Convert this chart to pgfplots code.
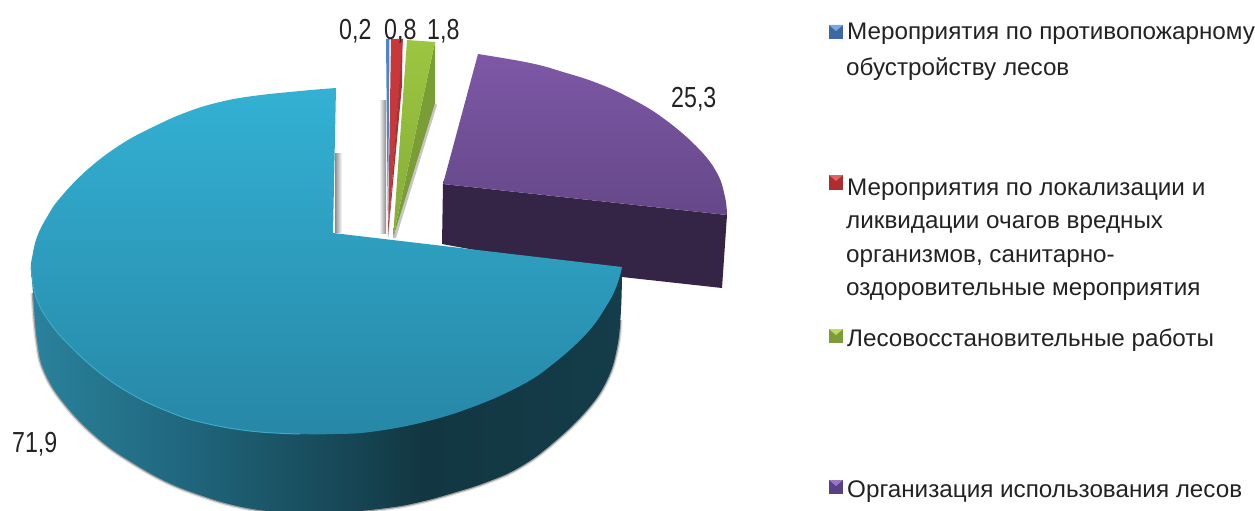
\documentclass[border=0pt]{standalone}
\usepackage{fontspec}
\setmainfont{Liberation Sans}
\newfontfamily\lgd[FakeStretch=1.01]{Liberation Sans}
\newfontfamily\nums[FakeStretch=0.8]{Liberation Sans}
\usepackage{pgfplots}
\pgfplotsset{compat=1.18}
\definecolor{bltopA}{HTML}{33B1D3}
\definecolor{bltopB}{HTML}{2787A7}
\definecolor{bledge}{HTML}{3CAAC8}
\definecolor{pptopA}{HTML}{7E58A6}
\definecolor{pptopB}{HTML}{654889}
\definecolor{ppside}{HTML}{342446}
\definecolor{lab}{HTML}{222222}
\definecolor{shd}{HTML}{8C8C8C}
\definecolor{sa}{RGB}{42,130,156}
\definecolor{sb}{RGB}{32,105,128}
\definecolor{sc}{RGB}{24,75,90}
\definecolor{sd}{RGB}{18,55,66}
\definecolor{se}{RGB}{20,60,73}
\definecolor{grA}{RGB}{155,198,64}
\definecolor{grB}{RGB}{135,172,56}
\definecolor{grD}{RGB}{122,158,53}
\definecolor{rdA}{RGB}{200,56,58}
\definecolor{rdD}{RGB}{165,50,52}
\definecolor{blu}{RGB}{74,134,200}
\definecolor{k1}{RGB}{60,105,165}
\definecolor{k1h}{RGB}{120,170,225}
\definecolor{k2}{RGB}{175,45,45}
\definecolor{k2h}{RGB}{225,100,100}
\definecolor{k3}{RGB}{125,155,55}
\definecolor{k3h}{RGB}{190,220,100}
\definecolor{k4}{RGB}{90,65,135}
\definecolor{k4h}{RGB}{150,120,195}
\pgfdeclarehorizontalshading{blside}{100bp}{
 color(0bp)=(sa);
 color(25bp)=(sa);
 color(37bp)=(sb);
 color(50bp)=(sc);
 color(58bp)=(sd);
 color(75bp)=(se);
 color(100bp)=(se)}
\newcommand{\lbl}[3]{\node[anchor=base west,inner sep=0pt,text=lab,font=\nums\fontsize{29}{32}\selectfont] at (axis cs:#1,#2) {#3};}
\newcommand{\lgt}[3]{\node[anchor=base west,inner sep=0pt,text=lab,font=\lgd\fontsize{24}{28}\selectfont] at (axis cs:#1,#2) {#3};}
\begin{document}
\begin{tikzpicture}
\begin{axis}[
  scale only axis,width=1255pt,height=511pt,
  xmin=0,xmax=1255,ymin=0,ymax=511,y dir=reverse,
  axis line style={draw=none},xtick=\empty,ytick=\empty,clip=true,
  every axis plot/.append style={tension=0.7}]
% shadows
\addplot[draw=none,left color=shd,right color=white] coordinates {(335,153)(342,153)(342,232)(335,232)} -- cycle;
\addplot[draw=none,left color=white,right color=shd] coordinates {(379,100)(386,100)(386,233)(379,233)} -- cycle;
\addplot[draw=none,fill=black!45,opacity=.5] coordinates {(434,103)(437,105)(396,238)(393,238)} -- cycle;
\addplot[black,line width=5pt,opacity=.12,smooth,forget plot] coordinates {(33,293)(37,340)(45,373)(67,407)(100,440)(133,463)(167,482)(200,495)(233,505)(267,511)(300,513)(335,513)(387,508)(420,502)(453,493)(487,482)(520,467)(553,443)(587,410)(607,380)(617,348)(620,320)};
\addplot[black,line width=2.5pt,opacity=.3,smooth,forget plot] coordinates {(33,293)(37,340)(45,373)(67,407)(100,440)(133,463)(167,482)(200,495)(233,505)(267,511)(300,513)(335,513)(387,508)(420,502)(453,493)(487,482)(520,467)(553,443)(587,410)(607,380)(617,348)(620,320)};
% purple slice 25,3
\addplot[draw=none,fill=ppside] coordinates {(443,184)(727,215)(722,288)(622,277)(442,244)} -- cycle;
\addplot[draw=none,top color=pptopA,bottom color=pptopB,smooth] coordinates {(727,215)(725,197)(717,173)(697,147)(663,118)(630,98)(597,83)(563,72)(530,63)(478,54)} -- (axis cs:443,184) -- cycle;
% green slice 1,8
\addplot[draw=none,fill=grD] coordinates {(435,42)(435,103)(393,238)} -- cycle;
\addplot[draw=none,top color=grA,bottom color=grB] coordinates {(407,40)(435,42)(393,238)} -- cycle;
% red slice 0,8
\addplot[draw=none,fill=rdA] coordinates {(391,39)(403,39)(388,237)} -- cycle;
\addplot[draw=none,fill=rdD] coordinates {(402.5,39)(402,85)(388,237)} -- cycle;
% blue slice 0,2
\addplot[draw=none,fill=blu] coordinates {(386,39)(389.5,39)(388,236)} -- cycle;
% cyan slice 71,9: side
\addplot[draw=none,shading=blside,smooth] coordinates {(31,267)(33,293)(37,340)(45,373)(67,407)(100,440)(133,463)(167,482)(200,495)(233,505)(267,511)(300,513)(335,513)(387,508)(420,502)(453,493)(487,482)(520,467)(553,443)(587,410)(607,380)(617,348)(621,310)(622,267)};
% cyan slice: top
\addplot[draw=none,top color=bltopA,bottom color=bltopB,smooth] coordinates {(622,267)(617,285)(607,305)(587,333)(553,364)(520,386)(470,408)(420,423)(370,432)(335,434)(300,434)(250,431)(200,422)(167,411)(133,395)(100,373)(67,343)(48,320)(37,300)(33,283)(31,267)(32,258)(37,237)(47,217)(60,198)(87,170)(120,145)(153,127)(187,112)(220,102)(253,96)(300,91)(336,88)} -- (axis cs:333,233) -- cycle;
\addplot[color=bledge,line width=1pt,smooth,forget plot] coordinates {(31,267)(33,283)(37,300)(48,320)(67,343)(100,373)(133,395)(167,411)(200,422)(250,431)(300,434)};
% legend squares
\addplot[draw=none,fill=k1] coordinates {(829,25)(843,25)(843,39)(829,39)} -- cycle;
\addplot[draw=none,fill=k1h] coordinates {(829,25)(843,25)(836,31)} -- cycle;
\addplot[draw=none,fill=k2] coordinates {(829,175)(843,175)(843,190)(829,190)} -- cycle;
\addplot[draw=none,fill=k2h] coordinates {(829,175)(843,175)(836,181)} -- cycle;
\addplot[draw=none,fill=k3] coordinates {(829,329)(843,329)(843,343)(829,343)} -- cycle;
\addplot[draw=none,fill=k3h] coordinates {(829,329)(843,329)(836,335)} -- cycle;
\addplot[draw=none,fill=k4] coordinates {(829,480)(843,480)(843,494)(829,494)} -- cycle;
\addplot[draw=none,fill=k4h] coordinates {(829,480)(843,480)(836,486)} -- cycle;
% data labels
\lbl{339}{40}{0,2}
\lbl{384}{40}{0,8}
\lbl{427}{40}{1,8}
\lbl{671}{107}{25,3}
\lbl{12}{452}{71,9}
% legend text
\lgt{847}{40}{Мероприятия по противопожарному}
\lgt{846}{75}{обустройству лесов}
\lgt{847}{195}{Мероприятия по локализации и}
\lgt{846}{228}{ликвидации очагов вредных}
\lgt{846}{262}{организмов, санитарно-}
\lgt{846}{295}{оздоровительные мероприятия}
\lgt{847}{346}{Лесовосстановительные работы}
\lgt{847}{497}{Организация использования лесов}
\end{axis}
\end{tikzpicture}
\end{document}
